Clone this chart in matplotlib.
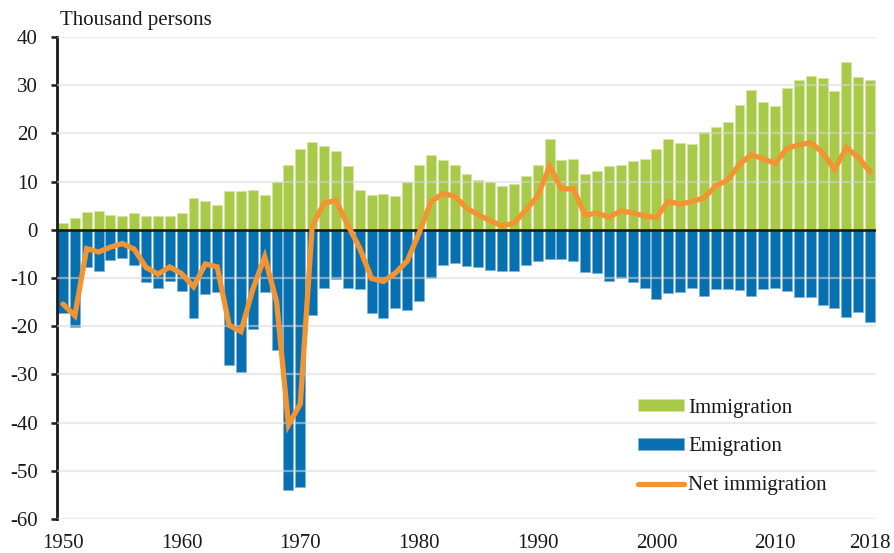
import matplotlib
matplotlib.use("Agg")
import matplotlib.pyplot as plt
import numpy as np

plt.rcParams["font.family"] = ["Liberation Serif", "DejaVu Serif"]
plt.rcParams["axes.unicode_minus"] = False

years = list(range(1950, 2019))

immigration = [1.5, 2.4, 3.7, 4.0, 3.0, 2.85, 3.4, 2.85, 2.85, 2.85,
               3.4, 6.5, 5.9, 5.1, 8.1, 8.15, 8.2, 7.2, 9.9, 13.5,
               16.7, 18.2, 17.3, 16.4, 13.2, 8.3, 7.3, 7.5, 7.1, 10.0,
               13.5, 15.6, 14.5, 13.5, 11.6, 10.4, 9.9, 9.1, 9.6, 11.1,
               13.5, 18.9, 14.4, 14.7, 11.6, 12.1, 13.2, 13.5, 14.2, 14.6,
               16.8, 18.9, 18.0, 17.8, 20.2, 21.3, 22.4, 25.9, 29.0, 26.6,
               25.6, 29.4, 31.1, 31.9, 31.4, 28.7, 34.8, 31.8, 31.0]

emigration = [-17.2, -20.2, -7.7, -8.6, -6.3, -5.8, -7.4, -10.8, -12.0, -10.7,
              -12.6, -18.4, -13.3, -12.9, -28.1, -29.4, -20.5, -12.9, -24.9, -54.0,
              -53.3, -17.6, -12.0, -10.3, -12.1, -12.2, -17.3, -18.2, -16.3, -16.7,
              -14.8, -10.1, -7.4, -6.9, -7.5, -7.7, -8.3, -8.5, -8.5, -7.3,
              -6.5, -6.0, -6.0, -6.4, -8.7, -8.9, -10.7, -9.9, -10.9, -12.1,
              -14.4, -13.2, -12.9, -12.1, -13.7, -12.3, -12.2, -12.5, -13.7, -12.2,
              -12.0, -12.7, -13.9, -13.9, -15.5, -16.3, -18.1, -17.0, -19.1]

net_immigration = [-15.4, -17.8, -3.9, -4.6, -3.6, -2.85, -4.0, -7.8, -9.2, -7.7,
                   -9.1, -11.8, -7.1, -7.7, -19.8, -21.1, -12.3, -5.6, -14.9, -40.5,
                   -36.1, 0.8, 5.5, 6.1, 1.0, -3.8, -10.1, -10.7, -9.0, -6.5,
                   -0.7, 5.8, 7.5, 7.0, 4.5, 3.1, 1.9, 0.8, 1.4, 4.1,
                   7.0, 13.2, 8.5, 8.5, 3.0, 3.5, 2.6, 3.9, 3.5, 2.85,
                   2.6, 5.9, 5.3, 5.9, 6.6, 9.1, 10.3, 13.6, 15.6, 14.7,
                   13.8, 16.9, 17.6, 18.1, 16.0, 12.5, 17.0, 15.1, 12.0]

xtick_years = [1950, 1960, 1970, 1980, 1990, 2000, 2010, 2018]
yticks = list(range(-60, 41, 10))

green = "#A8CA48"
blue = "#0770B0"
orange = "#F39433"

fig = plt.figure(figsize=(8.94, 5.53), dpi=100)
ax = fig.add_axes([57 / 894, 1 - 519 / 553, 819 / 894, 482 / 553])

b_imm = ax.bar(years, immigration, width=0.84, color=green, edgecolor="#D4E6A0",
               linewidth=0.6, label="Immigration", zorder=2)
b_emi = ax.bar(years, emigration, width=0.84, color=blue, edgecolor="#7FB3D6",
               linewidth=0.6, label="Emigration", zorder=2)

# light gridlines show faintly over the bars
for y in yticks:
    if y != 0:
        ax.axhline(y, color="#D9D9D9", linewidth=1.6, alpha=0.55, zorder=3)
ax.axhline(0, color="#1A1A1A", linewidth=1.9, zorder=4)

l_net, = ax.plot(years, net_immigration, color=orange, linewidth=3.8,
                 solid_joinstyle="miter", solid_capstyle="round",
                 label="Net immigration", zorder=5)

ax.set_xlim(1949.5, 2018.5)
ax.set_ylim(-60, 40)
ax.set_yticks(yticks)
ax.set_xticks(xtick_years)

for side in ["top", "right", "bottom"]:
    ax.spines[side].set_visible(False)
ax.spines["left"].set_linewidth(2.0)
ax.spines["left"].set_color("#1A1A1A")

ax.tick_params(axis="y", length=4, width=1.8, color="#1A1A1A", pad=10,
               labelsize=15, labelcolor="#1A1A1A")
ax.tick_params(axis="x", length=0, pad=11, labelsize=15, labelcolor="#1A1A1A")

fig.text(60 / 894, 1 - 21 / 553, "Thousand persons", fontsize=15,
         color="#1A1A1A", va="center", ha="left")

ax.legend([b_imm, b_emi, l_net], ["Immigration", "Emigration", "Net immigration"],
          loc="center left", bbox_to_anchor=((638 - 57) / 819, (519 - 447) / 482),
          frameon=False, fontsize=15, handlelength=2.2, handleheight=0.5,
          handletextpad=0.2, labelspacing=0.95, borderpad=0, borderaxespad=0,
          labelcolor="#1A1A1A")

fig.savefig("out.png", dpi=100)
